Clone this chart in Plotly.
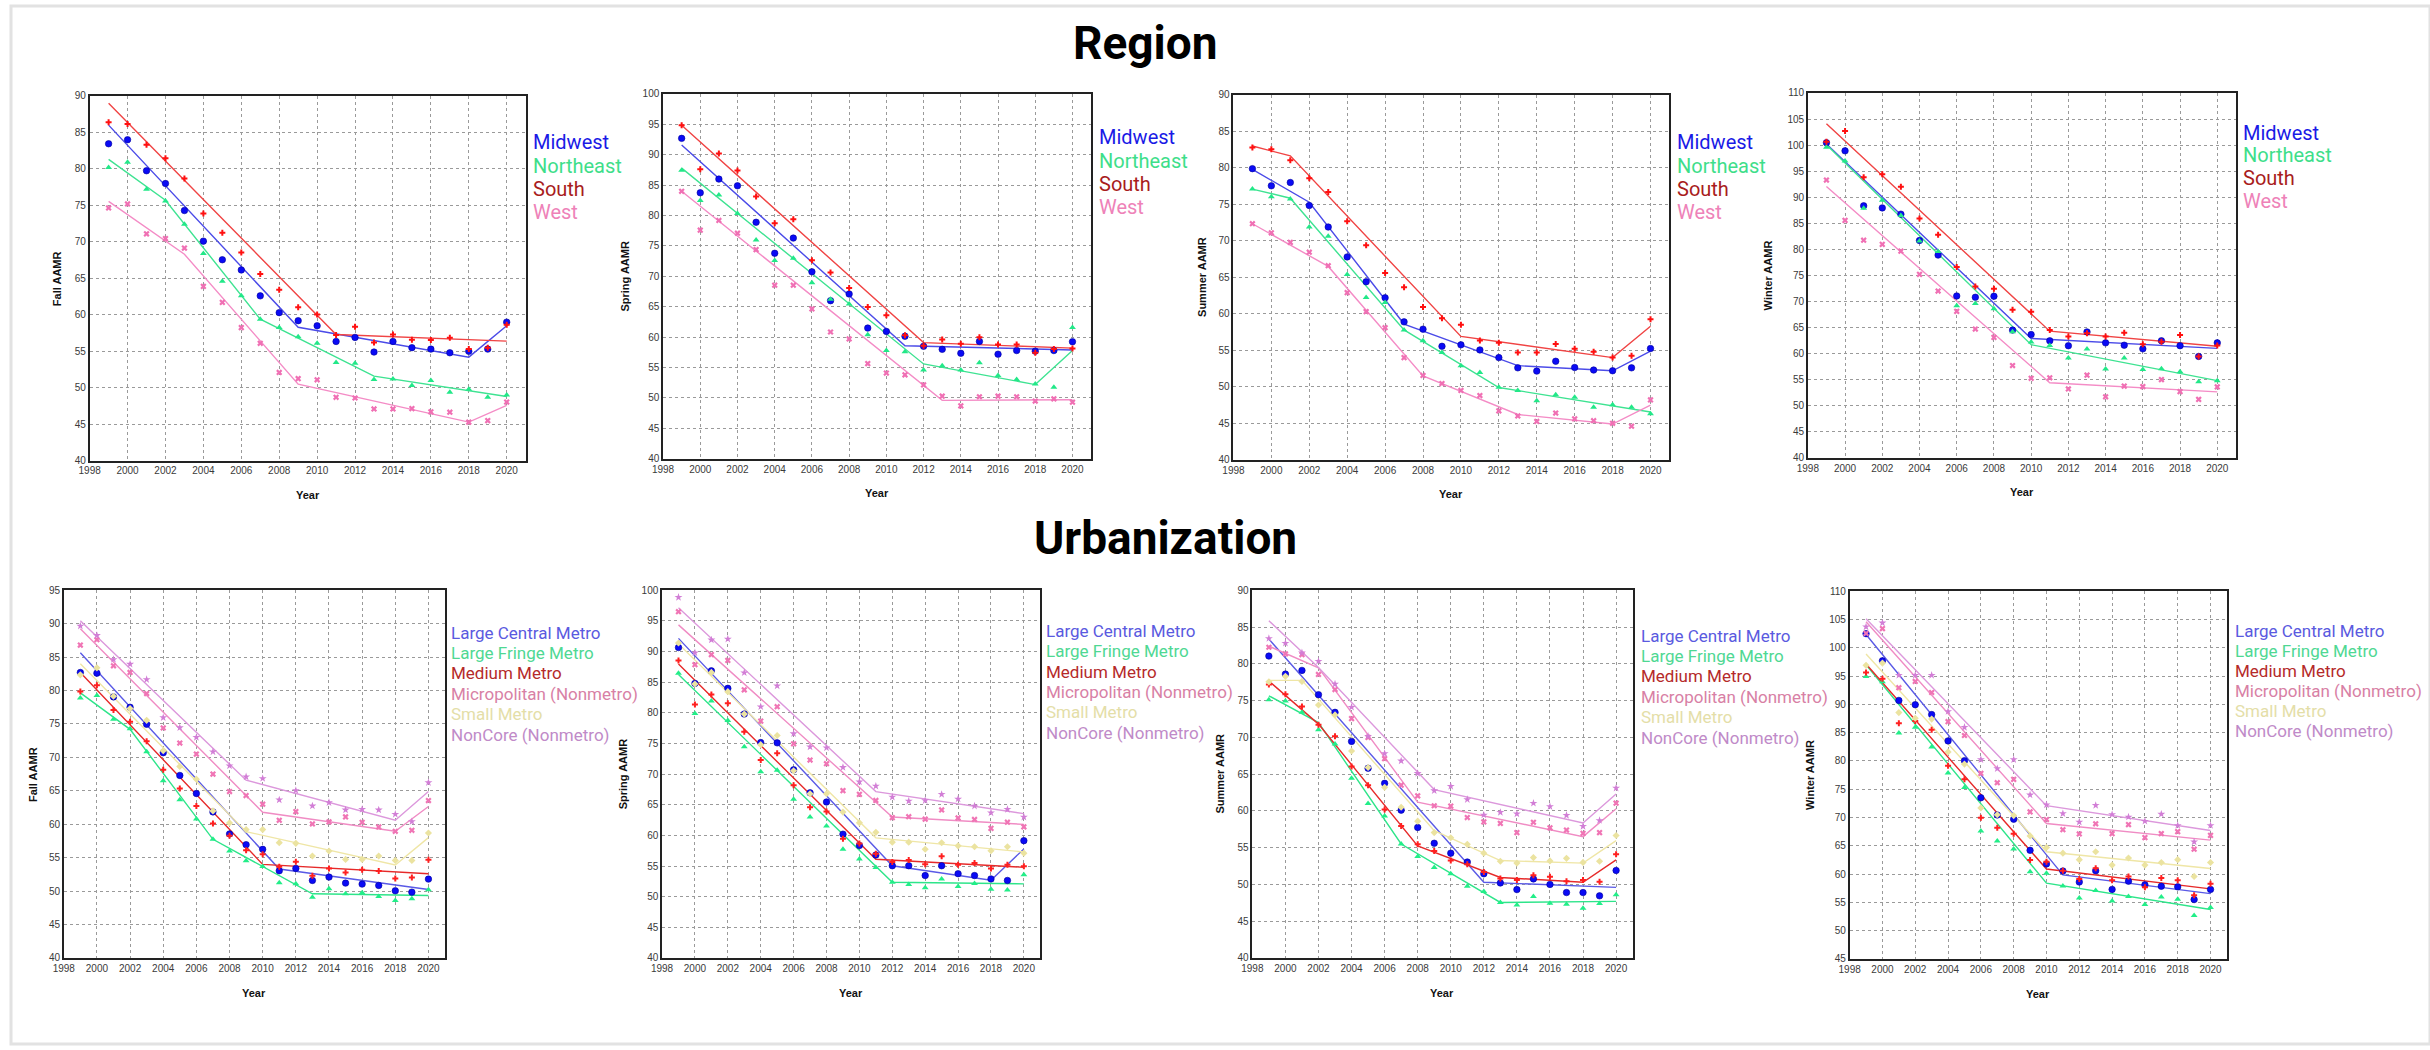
import plotly.graph_objects as go

W, H = 2430, 1050
YEARS = list(range(1999, 2021))

# ---------------- Region ----------------
REGIONS = ["Midwest", "Northeast", "South", "West"]
# Fall
F_MW = [83.45, 84.0, 79.75, 78.0, 74.3, 70.1, 67.55, 66.15, 62.6, 60.3, 59.2, 58.5, 56.35, 56.9, 54.9, 56.35, 55.5, 55.3, 54.8, 55.0, 55.3, 59.0]
F_NE = [80.2, 80.9, 77.2, 75.6, 72.4, 68.4, 64.6, 62.6, 59.4, 58.25, 57.0, 56.1, 53.45, 53.35, 51.15, 51.2, 50.3, 51.0, 49.4, 49.8, 48.7, 49.0]
F_S = [86.4, 86.15, 83.3, 81.45, 78.7, 73.9, 71.25, 68.55, 65.6, 63.45, 61.05, 60.05, 57.25, 58.35, 56.2, 57.3, 56.6, 56.55, 56.85, 55.3, 55.5, 58.65]
F_W = [74.65, 75.2, 71.1, 70.45, 69.15, 63.9, 61.7, 58.25, 56.1, 52.1, 51.25, 51.1, 48.7, 48.6, 47.1, 47.1, 47.15, 46.7, 46.65, 45.3, 45.5, 48.05]
F_MW_FX, F_MW_FY = [1999, 2009, 2018, 2020], [86.0, 58.3, 54.2, 58.5]
F_NE_FX, F_NE_FY = [1999, 2002, 2007, 2013, 2020], [81.3, 75.7, 59.4, 51.6, 48.8]
F_S_FX, F_S_FY = [1999, 2011, 2020], [89.0, 57.3, 56.4]
F_W_FX, F_W_FY = [1999, 2003, 2009, 2018, 2020], [75.55, 68.3, 50.5, 45.3, 47.6]
# Spring
SP_MW = [92.7, 83.75, 86.0, 84.9, 78.9, 73.8, 76.3, 70.75, 66.0, 67.1, 61.5, 60.95, 60.15, 58.5, 58.0, 57.35, 59.3, 57.2, 57.8, 57.7, 57.8, 59.25]
SP_NE = [87.45, 82.5, 83.4, 80.35, 76.0, 72.6, 73.0, 68.95, 66.25, 65.45, 60.4, 57.8, 57.6, 54.6, 55.3, 54.6, 55.8, 53.7, 53.05, 52.3, 51.75, 61.6]
SP_S = [94.85, 87.6, 90.2, 87.4, 83.15, 78.75, 79.4, 72.65, 70.65, 68.1, 64.95, 63.6, 60.3, 58.6, 59.6, 58.9, 60.0, 58.8, 58.8, 57.45, 58.05, 58.15]
SP_W = [84.0, 77.6, 79.2, 77.1, 74.4, 68.55, 68.55, 64.65, 60.85, 59.7, 55.65, 54.1, 53.8, 52.15, 50.3, 48.7, 50.2, 50.3, 50.2, 49.5, 49.85, 49.3]
SP_MW_FX, SP_MW_FY = [1999, 2011, 2020], [91.6, 58.6, 57.9]
SP_NE_FX, SP_NE_FY = [1999, 2012, 2018, 2020], [87.8, 55.6, 52.2, 57.8]
SP_S_FX, SP_S_FY = [1999, 2012, 2020], [94.85, 59.1, 58.2]
SP_W_FX, SP_W_FY = [1999, 2013, 2020], [84.0, 49.6, 49.7]
# Summer
SU_MW = [79.9, 77.55, 78.0, 74.85, 71.9, 67.8, 64.4, 62.2, 58.9, 57.9, 55.55, 55.75, 55.05, 54.0, 52.6, 52.15, 53.5, 52.65, 52.3, 52.2, 52.6, 55.25]
SU_NE = [77.1, 76.05, 75.75, 71.9, 70.65, 65.4, 62.25, 61.55, 57.8, 56.3, 54.7, 52.9, 51.95, 49.95, 49.5, 48.1, 48.9, 48.55, 47.2, 47.55, 47.2, 46.3]
SU_S = [82.8, 82.55, 81.05, 78.6, 76.7, 72.7, 69.4, 65.6, 63.65, 60.95, 59.4, 58.5, 56.35, 56.05, 54.7, 54.7, 55.85, 55.2, 54.8, 54.0, 54.25, 59.25]
SU_W = [72.35, 71.1, 69.8, 68.45, 66.6, 62.9, 60.3, 58.1, 54.0, 51.55, 50.45, 49.5, 48.8, 46.7, 46.0, 45.25, 46.4, 45.6, 45.35, 45.0, 44.6, 48.2]
SU_MW_FX, SU_MW_FY = [1999, 2002, 2007, 2013, 2018, 2020], [79.8, 75.3, 58.6, 52.9, 52.2, 54.9]
SU_NE_FX, SU_NE_FY = [1999, 2001, 2007, 2012, 2020], [77.1, 75.85, 57.8, 49.9, 46.55]
SU_S_FX, SU_S_FY = [1999, 2001, 2010, 2018, 2020], [83.0, 81.65, 56.9, 54.0, 58.3]
SU_W_FX, SU_W_FY = [1999, 2003, 2008, 2013, 2018, 2020], [72.35, 66.5, 51.5, 46.2, 44.9, 47.5]
# Winter
WI_MW = [100.45, 98.9, 88.35, 87.95, 86.75, 81.7, 78.9, 71.05, 70.8, 71.0, 64.5, 63.65, 62.45, 61.5, 64.15, 62.05, 61.6, 60.9, 62.45, 61.5, 59.45, 62.05]
WI_NE = [99.6, 96.95, 87.9, 89.4, 86.5, 81.6, 79.6, 69.15, 69.6, 68.6, 64.2, 62.2, 61.55, 59.15, 60.85, 57.05, 59.15, 56.95, 57.1, 56.5, 54.6, 54.8]
WI_S = [100.65, 102.7, 93.85, 94.4, 92.0, 85.9, 82.8, 76.6, 72.85, 72.45, 68.4, 68.0, 64.5, 63.25, 63.9, 63.25, 64.0, 61.8, 62.25, 63.55, 59.45, 61.55]
WI_W = [93.3, 85.55, 81.75, 80.95, 79.65, 75.2, 72.0, 68.1, 64.7, 63.1, 57.7, 55.25, 55.35, 53.2, 55.85, 51.7, 53.75, 53.65, 55.0, 52.7, 51.2, 53.6]
WI_MW_FX, WI_MW_FY = [1999, 2010, 2020], [100.2, 62.9, 61.0]
WI_NE_FX, WI_NE_FY = [1999, 2010, 2020], [100.05, 61.7, 54.8]
WI_S_FX, WI_S_FY = [1999, 2011, 2020], [104.1, 64.3, 61.4]
WI_W_FX, WI_W_FY = [1999, 2011, 2020], [92.05, 54.4, 52.65]

# ---------------- Urbanization ----------------
URBAN = ["Large Central Metro", "Large Fringe Metro", "Medium Metro",
         "Micropolitan (Nonmetro)", "Small Metro", "NonCore (Nonmetro)"]
# Fall
UF_LCM = [82.7, 82.6, 79.05, 77.5, 74.95, 70.7, 67.3, 64.6, 61.85, 58.55, 56.95, 56.25, 53.05, 53.4, 51.6, 52.1, 51.2, 51.05, 50.85, 50.05, 49.85, 51.8]
UF_LFM = [78.9, 79.25, 75.7, 74.3, 70.85, 66.5, 63.65, 60.8, 57.75, 56.0, 54.55, 53.7, 51.25, 51.1, 49.1, 50.35, 49.6, 49.75, 49.2, 48.6, 48.85, 50.2]
UF_MED = [79.85, 80.8, 77.1, 75.35, 72.4, 68.15, 65.35, 62.75, 60.1, 58.3, 56.1, 55.5, 53.65, 54.4, 52.3, 53.4, 52.8, 53.2, 53.0, 51.9, 52.05, 54.7]
UF_MIC = [86.8, 87.6, 83.7, 82.7, 79.55, 74.4, 72.15, 70.5, 67.5, 64.9, 64.3, 63.0, 60.6, 61.9, 60.05, 60.35, 61.1, 60.3, 59.6, 58.95, 59.1, 63.55]
UF_SML = [82.35, 83.4, 79.15, 77.3, 75.55, 71.0, 68.65, 66.75, 62.0, 60.2, 59.2, 59.2, 57.25, 57.15, 55.25, 56.0, 54.75, 54.75, 55.25, 54.6, 54.6, 58.7]
UF_NON = [89.65, 88.25, 84.65, 83.95, 81.65, 75.95, 74.45, 73.0, 70.85, 68.75, 67.1, 66.85, 63.65, 65.05, 62.75, 63.25, 62.15, 62.25, 62.15, 61.5, 60.4, 66.25]
UF_LCM_FX, UF_LCM_FY = [1999, 2011, 2020], [85.65, 53.3, 50.25]
UF_LFM_FX, UF_LFM_FY = [1999, 2002, 2007, 2013, 2020], [79.65, 74.2, 57.75, 49.6, 49.35]
UF_MED_FX, UF_MED_FY = [1999, 2010, 2020], [82.7, 54.0, 52.6]
UF_MIC_FX, UF_MIC_FY = [1999, 2010, 2018, 2020], [89.25, 61.8, 58.95, 62.65]
UF_SML_FX, UF_SML_FY = [1999, 2009, 2018, 2020], [84.0, 58.9, 53.9, 58.0]
UF_NON_FX, UF_NON_FY = [1999, 2009, 2018, 2020], [90.45, 66.6, 60.6, 64.9]
# Spring
USP_LCM = [90.65, 84.8, 86.85, 84.0, 79.8, 75.15, 75.1, 70.7, 66.95, 65.45, 60.2, 58.35, 56.8, 55.05, 55.05, 53.45, 55.05, 53.75, 53.45, 52.9, 52.65, 59.15]
USP_LFM = [86.45, 79.9, 81.95, 78.75, 74.45, 70.4, 70.65, 65.9, 63.0, 61.55, 57.75, 56.15, 54.75, 52.35, 52.0, 51.45, 52.9, 51.65, 52.15, 51.2, 51.1, 53.6]
USP_MED = [88.55, 81.35, 83.0, 81.55, 76.9, 72.3, 73.4, 68.2, 64.6, 63.9, 59.45, 58.7, 57.0, 55.65, 56.0, 55.3, 56.6, 55.2, 55.5, 54.6, 55.2, 54.95]
USP_MIC = [96.5, 87.85, 89.5, 88.55, 83.75, 78.65, 81.0, 74.95, 72.3, 71.7, 67.3, 66.7, 65.7, 62.9, 63.05, 62.65, 64.15, 62.85, 62.6, 61.15, 62.15, 61.4]
USP_SML = [91.4, 84.7, 86.6, 83.45, 79.8, 74.8, 76.3, 70.55, 66.8, 66.8, 63.8, 62.05, 60.5, 58.9, 58.9, 57.75, 58.8, 58.3, 58.15, 57.5, 58.15, 57.1]
USP_NON = [98.85, 89.8, 91.9, 92.05, 86.55, 81.0, 84.4, 76.6, 74.45, 74.3, 71.1, 68.75, 68.05, 66.25, 65.6, 65.7, 66.7, 65.95, 64.8, 63.7, 64.25, 63.0]
USP_LCM_FX, USP_LCM_FY = [1999, 2012, 2018, 2020], [92.15, 55.05, 52.7, 57.8]
USP_LFM_FX, USP_LFM_FY = [1999, 2012, 2020], [86.25, 52.35, 52.1]
USP_MED_FX, USP_MED_FY = [1999, 2011, 2020], [87.95, 56.1, 54.8]
USP_MIC_FX, USP_MIC_FY = [1999, 2012, 2020], [94.35, 63.0, 61.8]
USP_SML_FX, USP_SML_FY = [1999, 2011, 2020], [91.25, 59.6, 57.3]
USP_NON_FX, USP_NON_FY = [1999, 2011, 2020], [97.15, 67.15, 63.55]
# Summer
USU_LCM = [81.05, 78.6, 79.1, 75.8, 73.4, 69.45, 65.8, 63.75, 60.1, 57.75, 55.6, 54.25, 53.05, 51.45, 50.2, 49.3, 50.75, 50.0, 48.9, 48.9, 48.45, 51.9]
USU_LFM = [75.1, 74.95, 73.4, 71.05, 69.1, 64.45, 61.0, 59.3, 55.5, 53.8, 52.3, 51.45, 49.75, 49.05, 47.55, 47.2, 48.35, 47.45, 47.3, 46.75, 47.4, 48.6]
USU_MED = [77.2, 75.85, 74.2, 71.7, 70.15, 66.05, 63.5, 60.2, 57.95, 55.45, 54.55, 53.25, 52.75, 51.7, 50.8, 50.6, 51.25, 51.05, 50.45, 50.6, 50.35, 54.1]
USU_MIC = [82.25, 81.35, 81.25, 78.55, 76.5, 72.55, 70.0, 67.1, 63.5, 62.05, 60.7, 60.65, 59.1, 58.5, 58.3, 57.05, 58.45, 57.7, 57.4, 56.95, 57.05, 61.05]
USU_SML = [77.55, 78.3, 77.6, 74.4, 73.05, 68.15, 65.9, 63.2, 60.5, 58.6, 57.05, 56.35, 55.45, 54.25, 53.15, 52.9, 53.65, 53.2, 53.55, 53.0, 53.15, 56.65]
USU_NON = [83.45, 82.8, 81.5, 80.35, 77.25, 74.1, 70.15, 67.8, 66.8, 65.1, 62.75, 63.35, 61.55, 59.45, 59.8, 59.6, 61.05, 60.6, 59.4, 57.9, 58.7, 63.1]
USU_LCM_FX, USU_LCM_FY = [1999, 2012, 2020], [83.35, 50.3, 49.6]
USU_LFM_FX, USU_LFM_FY = [1999, 2002, 2007, 2013, 2020], [75.65, 72.0, 55.5, 47.55, 47.7]
USU_MED_FX, USU_MED_FY = [1999, 2002, 2008, 2013, 2018, 2020], [77.65, 71.8, 55.25, 50.95, 50.3, 53.35]
USU_MIC_FX, USU_MIC_FY = [1999, 2002, 2008, 2018, 2020], [82.4, 79.45, 61.2, 56.5, 60.3]
USU_SML_FX, USU_SML_FY = [1999, 2001, 2009, 2013, 2018, 2020], [77.75, 77.75, 57.3, 53.25, 52.9, 55.95]
USU_NON_FX, USU_NON_FY = [1999, 2002, 2009, 2018, 2020], [85.85, 79.5, 62.9, 58.35, 62.3]
# Winter
UWI_LCM = [102.5, 97.7, 90.7, 89.95, 88.2, 83.55, 80.05, 73.5, 70.45, 69.7, 64.2, 61.8, 60.55, 58.6, 60.6, 57.3, 58.75, 58.1, 57.85, 57.75, 55.5, 57.3]
UWI_LFM = [94.95, 94.0, 84.95, 85.95, 82.45, 77.85, 75.3, 67.6, 65.85, 64.45, 60.4, 60.15, 57.9, 55.8, 57.1, 55.25, 56.05, 54.65, 55.95, 55.55, 52.7, 54.1]
UWI_MED = [95.65, 94.55, 86.65, 87.05, 85.5, 79.15, 76.75, 69.95, 68.2, 67.15, 62.5, 62.2, 60.6, 59.15, 61.05, 58.9, 59.6, 57.7, 59.3, 58.9, 56.25, 58.3]
UWI_MIC = [102.55, 103.4, 92.95, 94.05, 92.1, 86.95, 84.5, 77.8, 76.15, 76.75, 71.0, 69.65, 67.85, 67.1, 68.9, 67.15, 68.75, 66.45, 67.15, 67.5, 64.4, 66.85]
UWI_SML = [96.9, 97.3, 88.55, 87.55, 87.4, 81.6, 79.45, 71.7, 70.5, 70.35, 66.75, 64.7, 63.7, 62.55, 63.95, 61.6, 62.85, 61.6, 62.05, 62.55, 59.6, 62.05]
UWI_NON = [103.7, 104.4, 95.15, 95.15, 95.15, 88.75, 85.95, 80.25, 78.65, 80.25, 74.0, 72.25, 70.7, 69.2, 72.15, 70.55, 70.1, 69.35, 70.6, 68.6, 65.7, 68.6]
UWI_LCM_FX, UWI_LCM_FY = [1999, 2011, 2020], [102.35, 59.85, 56.55]
UWI_LFM_FX, UWI_LFM_FY = [1999, 2010, 2020], [97.0, 58.4, 53.75]
UWI_MED_FX, UWI_MED_FY = [1999, 2010, 2020], [97.15, 60.9, 57.4]
UWI_MIC_FX, UWI_MIC_FY = [1999, 2010, 2020], [104.6, 68.95, 66.0]
UWI_SML_FX, UWI_SML_FY = [1999, 2010, 2020], [98.9, 63.95, 61.0]
UWI_NON_FX, UWI_NON_FY = [1999, 2010, 2020], [105.15, 72.1, 67.7]

X_TICKS = list(range(1998, 2021, 2))

# ---------------- styles ----------------
# name: (symbol, marker colour, marker size, line colour, legend text colour)
STYLE = {
    "Midwest": ("circle", "#0a0af5", 6.5, "#4b4be8", "#1a1ae6"),
    "Northeast": ("triangle-up", "#22e888", 6, "#3fe392", "#3ede8a"),
    "South": ("cross", "#ff1010", 5, "#f04444", "#a81c1c"),
    "West": ("x", "#f070b4", 5.5, "#f48cc6", "#ee82b8"),
    "Large Central Metro": ("circle", "#0a0af5", 6.5, "#5a5ae6", "#5a5ae0"),
    "Large Fringe Metro": ("triangle-up", "#22ee88", 6, "#2ee58a", "#4fd893"),
    "Medium Metro": ("cross", "#ff2020", 5, "#e62a2a", "#b52a2a"),
    "Micropolitan (Nonmetro)": ("x", "#f075b5", 5.5, "#f08cc4", "#d880a5"),
    "Small Metro": ("diamond", "#ebe3a0", 5.5, "#efe6a6", "#e4dea8"),
    "NonCore (Nonmetro)": ("star", "#d27ed6", 6, "#dc98dc", "#c08ac8"),
}

PANELS = [
    # plot box (x0, x1, y0, y1) in px, y range, y title, series, legend (x, y, gap, size)
    dict(box=(79, 517, 91, 460), yr=(40, 90), yt="Fall AAMR", leg=(522, 138, 23.5, 20),
         series=[("Midwest", F_MW, F_MW_FX, F_MW_FY), ("Northeast", F_NE, F_NE_FX, F_NE_FY),
                 ("South", F_S, F_S_FX, F_S_FY), ("West", F_W, F_W_FX, F_W_FY)], ytx=47),
    dict(box=(655, 1085, 89, 458), yr=(40, 100), yt="Spring AAMR", leg=(1091, 133, 23.5, 20),
         series=[("Midwest", SP_MW, SP_MW_FX, SP_MW_FY), ("Northeast", SP_NE, SP_NE_FX, SP_NE_FY),
                 ("South", SP_S, SP_S_FX, SP_S_FY), ("West", SP_W, SP_W_FX, SP_W_FY)], ytx=617),
    dict(box=(1228, 1666, 90, 459), yr=(40, 90), yt="Summer AAMR", leg=(1672, 138, 23.5, 20),
         series=[("Midwest", SU_MW, SU_MW_FX, SU_MW_FY), ("Northeast", SU_NE, SU_NE_FX, SU_NE_FY),
                 ("South", SU_S, SU_S_FX, SU_S_FY), ("West", SU_W, SU_W_FX, SU_W_FY)], ytx=1197),
    dict(box=(1805, 2235, 88, 457), yr=(40, 110), yt="Winter AAMR", leg=(2240, 128, 23, 20),
         series=[("Midwest", WI_MW, WI_MW_FX, WI_MW_FY), ("Northeast", WI_NE, WI_NE_FX, WI_NE_FY),
                 ("South", WI_S, WI_S_FX, WI_S_FY), ("West", WI_W, WI_W_FX, WI_W_FY)], ytx=1765),
    dict(box=(53, 436, 591, 963), yr=(40, 95), yt="Fall AAMR", leg=(440, 634, 20.6, 17),
         series=[("Large Central Metro", UF_LCM, UF_LCM_FX, UF_LCM_FY),
                 ("Large Fringe Metro", UF_LFM, UF_LFM_FX, UF_LFM_FY),
                 ("Medium Metro", UF_MED, UF_MED_FX, UF_MED_FY),
                 ("Micropolitan (Nonmetro)", UF_MIC, UF_MIC_FX, UF_MIC_FY),
                 ("Small Metro", UF_SML, UF_SML_FX, UF_SML_FY),
                 ("NonCore (Nonmetro)", UF_NON, UF_NON_FX, UF_NON_FY)], ytx=22),
    dict(box=(654, 1034, 591, 963), yr=(40, 100), yt="Spring AAMR", leg=(1038, 632, 20.6, 17),
         series=[("Large Central Metro", USP_LCM, USP_LCM_FX, USP_LCM_FY),
                 ("Large Fringe Metro", USP_LFM, USP_LFM_FX, USP_LFM_FY),
                 ("Medium Metro", USP_MED, USP_MED_FX, USP_MED_FY),
                 ("Micropolitan (Nonmetro)", USP_MIC, USP_MIC_FX, USP_MIC_FY),
                 ("Small Metro", USP_SML, USP_SML_FX, USP_SML_FY),
                 ("NonCore (Nonmetro)", USP_NON, USP_NON_FX, USP_NON_FY)], ytx=615),
    dict(box=(1247, 1629, 591, 963), yr=(40, 90), yt="Summer AAMR", leg=(1635, 637, 20.6, 17),
         series=[("Large Central Metro", USU_LCM, USU_LCM_FX, USU_LCM_FY),
                 ("Large Fringe Metro", USU_LFM, USU_LFM_FX, USU_LFM_FY),
                 ("Medium Metro", USU_MED, USU_MED_FX, USU_MED_FY),
                 ("Micropolitan (Nonmetro)", USU_MIC, USU_MIC_FX, USU_MIC_FY),
                 ("Small Metro", USU_SML, USU_SML_FX, USU_SML_FY),
                 ("NonCore (Nonmetro)", USU_NON, USU_NON_FX, USU_NON_FY)], ytx=1215),
    dict(box=(1847, 2226, 592, 964), yr=(45, 110), yt="Winter AAMR", leg=(2232, 632, 20.2, 17),
         series=[("Large Central Metro", UWI_LCM, UWI_LCM_FX, UWI_LCM_FY),
                 ("Large Fringe Metro", UWI_LFM, UWI_LFM_FX, UWI_LFM_FY),
                 ("Medium Metro", UWI_MED, UWI_MED_FX, UWI_MED_FY),
                 ("Micropolitan (Nonmetro)", UWI_MIC, UWI_MIC_FX, UWI_MIC_FY),
                 ("Small Metro", UWI_SML, UWI_SML_FX, UWI_SML_FY),
                 ("NonCore (Nonmetro)", UWI_NON, UWI_NON_FX, UWI_NON_FY)], ytx=1807),
]

fig = go.Figure()
annotations = []
layout_axes = {}
TICK_FONT = dict(family="Liberation Sans", size=10, color="#3a3a3a")
TITLE_FONT = dict(family="Liberation Sans", size=11, color="#111111")

for i, p in enumerate(PANELS, start=1):
    x0, x1, y0, y1 = p["box"]
    xa, ya = f"x{i}", f"y{i}"
    # fitted joinpoint lines first
    for name, vals, fx, fy in p["series"]:
        sym, mc, ms, lc, tc = STYLE[name]
        fig.add_trace(go.Scatter(x=fx, y=fy, mode="lines", xaxis=xa, yaxis=ya,
                                 line=dict(color=lc, width=1.4), showlegend=False,
                                 hoverinfo="skip"))
    for name, vals, fx, fy in p["series"]:
        sym, mc, ms, lc, tc = STYLE[name]
        mline = dict(width=0.6, color="#00009a") if sym == "circle" else dict(width=0)
        fig.add_trace(go.Scatter(x=YEARS, y=vals, mode="markers", name=name, xaxis=xa, yaxis=ya,
                                 marker=dict(symbol=sym, color=mc, size=ms, line=mline),
                                 showlegend=False))
    axis_common = dict(showline=True, mirror=True, linecolor="#222222", linewidth=1.5,
                       showgrid=True, gridcolor="#9a9a9a", griddash="dot", gridwidth=1,
                       zeroline=False, ticks="", tickfont=TICK_FONT, fixedrange=True)
    layout_axes[f"xaxis{i}"] = dict(domain=[x0 / W, x1 / W], anchor=ya, range=[1998, 2021],
                                    tickvals=X_TICKS, **axis_common)
    layout_axes[f"yaxis{i}"] = dict(domain=[1 - y1 / H, 1 - y0 / H], anchor=xa,
                                    range=list(p["yr"]), dtick=5, tick0=0, **axis_common)
    # axis titles
    annotations.append(dict(text=f"<b>{p['yt']}</b>", x=p["ytx"] / W, y=1 - (y0 + y1) / 2 / H,
                            xref="paper", yref="paper", textangle=-90, showarrow=False,
                            xanchor="center", yanchor="middle", font=TITLE_FONT))
    annotations.append(dict(text="<b>Year</b>", x=(x0 + x1) / 2 / W, y=1 - (y1 + 35) / H,
                            xref="paper", yref="paper", showarrow=False,
                            xanchor="center", yanchor="middle", font=TITLE_FONT))
    # coloured-text legend
    lx, ly, gap, fs = p["leg"]
    for k, (name, vals, fx, fy) in enumerate(p["series"]):
        tc = STYLE[name][4]
        annotations.append(dict(text=name, x=lx / W, y=1 - (ly + k * gap) / H,
                                xref="paper", yref="paper", showarrow=False,
                                xanchor="left", yanchor="middle",
                                font=dict(family="Roboto", size=fs, color=tc)))

annotations.append(dict(text="<b>Region</b>", x=1140 / W, y=1 - 37 / H, xref="paper", yref="paper",
                        showarrow=False, xanchor="center", yanchor="middle",
                        font=dict(family="Roboto", size=46, color="#000000")))
annotations.append(dict(text="<b>Urbanization</b>", x=1160 / W, y=1 - 538 / H, xref="paper", yref="paper",
                        showarrow=False, xanchor="center", yanchor="middle",
                        font=dict(family="Roboto", size=46, color="#000000")))

fig.update_layout(
    width=W, height=H, margin=dict(l=0, r=0, t=0, b=0),
    paper_bgcolor="white", plot_bgcolor="white",
    showlegend=False, annotations=annotations,
    shapes=[dict(type="rect", xref="paper", yref="paper", x0=0, y0=0, x1=1, y1=1,
                 line=dict(color="#e2e2e2", width=3), layer="below")],
    **layout_axes,
)

fig.write_html("out.html",
               config={"displayModeBar": False},
               post_script="document.body.style.margin='0px';"
                           "document.body.style.padding='0px';"
                           "document.body.style.overflow='hidden';")
